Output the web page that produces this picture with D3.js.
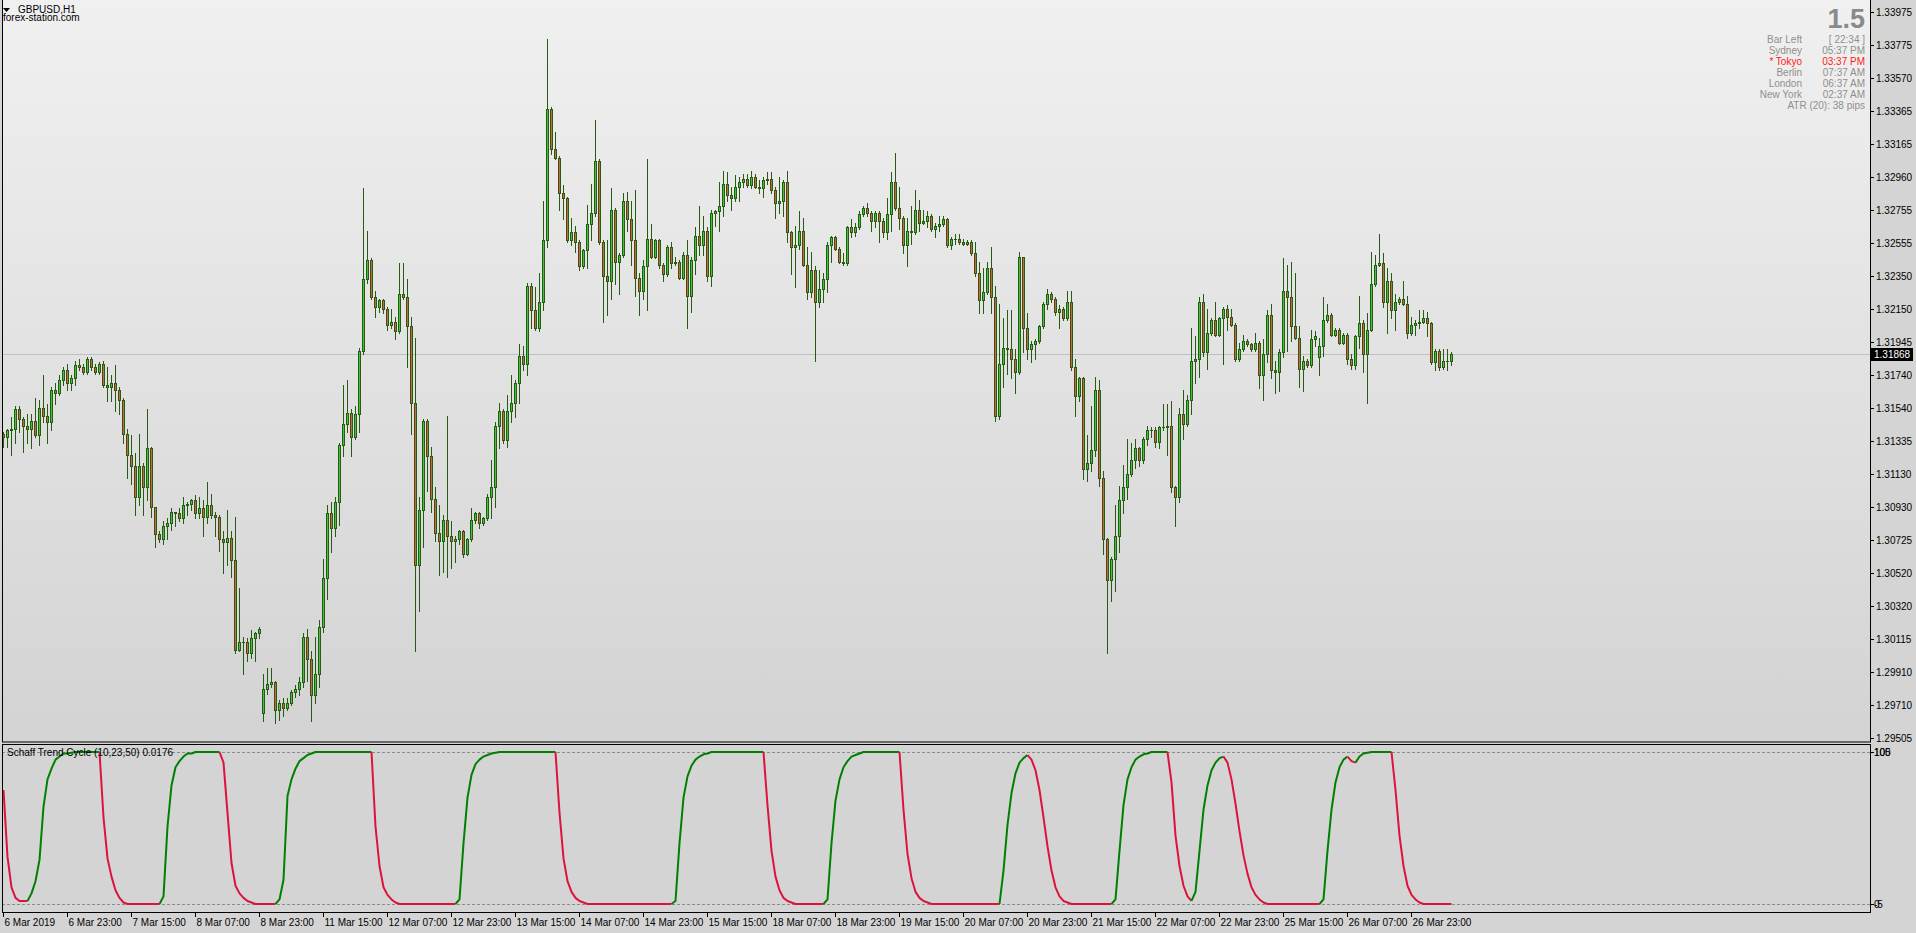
<!DOCTYPE html>
<html><head><meta charset="utf-8">
<script src="https://cdn.jsdelivr.net/npm/d3@7"></script>
<style>
html,body{margin:0;padding:0;background:#d4d4d4;overflow:hidden;}
svg{display:block;}
text{font-family:"Liberation Sans",Arial,sans-serif;}
</style></head><body>
<svg id="c" width="1916" height="933"></svg>
<script>
// ---- DATA (GBPUSD H1, 6 Mar 2019 07:00 onward) ----
const openP=[1.3138,1.3136,1.3140,1.3141,1.3153,1.3147,1.3143,1.3141,1.3146,1.3137,
1.3154,1.3149,1.3145,1.3165,1.3163,1.3171,1.3177,1.3169,1.3172,1.3180,
1.3179,1.3176,1.3184,1.3179,1.3176,1.3181,1.3168,1.3167,1.3169,1.3165,
1.3159,1.3138,1.3125,1.3118,1.3099,1.3118,1.3105,1.3129,1.3093,1.3076,
1.3073,1.3081,1.3083,1.3090,1.3089,1.3086,1.3094,1.3095,1.3097,1.3089,
1.3092,1.3087,1.3094,1.3088,1.3087,1.3073,1.3071,1.3074,1.3060,1.3005,
1.3010,1.3010,1.3003,1.3012,1.3015,1.2966,1.2981,1.2984,1.2985,1.2968,
1.2972,1.2969,1.2972,1.2979,1.2981,1.2985,1.3013,1.2999,1.2977,1.2990,
1.3019,1.3049,1.3089,1.3080,1.3096,1.3131,1.3144,1.3151,1.3136,1.3150,
1.3189,1.3233,1.3245,1.3222,1.3216,1.3220,1.3215,1.3205,1.3207,1.3201,
1.3224,1.3222,1.3204,1.3157,1.3057,1.3091,1.3146,1.3124,1.3098,1.3077,
1.3072,1.3085,1.3075,1.3072,1.3073,1.3078,1.3064,1.3073,1.3085,1.3089,
1.3083,1.3086,1.3099,1.3105,1.3143,1.3152,1.3134,1.3152,1.3157,1.3169,
1.3186,1.3181,1.3229,1.3214,1.3203,1.3219,1.3257,1.3338,1.3313,1.3308,
1.3286,1.3283,1.3257,1.3262,1.3256,1.3241,1.3251,1.3267,1.3274,1.3306,
1.3256,1.3235,1.3232,1.3276,1.3244,1.3248,1.3281,1.3270,1.3257,1.3234,
1.3226,1.3241,1.3258,1.3247,1.3257,1.3242,1.3236,1.3253,1.3243,1.3244,
1.3234,1.3248,1.3223,1.3245,1.3260,1.3254,1.3263,1.3235,1.3274,1.3275,
1.3278,1.3292,1.3285,1.3283,1.3290,1.3293,1.3295,1.3291,1.3296,1.3290,
1.3289,1.3294,1.3295,1.3288,1.3280,1.3281,1.3293,1.3262,1.3253,1.3254,
1.3263,1.3242,1.3225,1.3239,1.3219,1.3227,1.3233,1.3254,1.3259,1.3252,
1.3244,1.3243,1.3265,1.3262,1.3265,1.3273,1.3277,1.3274,1.3269,1.3274,
1.3269,1.3262,1.3273,1.3293,1.3277,1.3271,1.3254,1.3263,1.3262,1.3276,
1.3268,1.3269,1.3272,1.3264,1.3266,1.3267,1.3270,1.3254,1.3258,1.3258,
1.3256,1.3255,1.3256,1.3249,1.3237,1.3220,1.3225,1.3240,1.3222,1.3149,
1.3181,1.3191,1.3190,1.3184,1.3176,1.3247,1.3203,1.3190,1.3193,1.3195,
1.3204,1.3218,1.3224,1.3221,1.3213,1.3215,1.3209,1.3219,1.3179,1.3161,
1.3172,1.3116,1.3120,1.3128,1.3165,1.3111,1.3073,1.3048,1.3061,1.3075,
1.3097,1.3105,1.3113,1.3122,1.3129,1.3122,1.3135,1.3140,1.3140,1.3133,
1.3142,1.3142,1.3143,1.3105,1.3099,1.3150,1.3144,1.3159,1.3183,1.3184,
1.3219,1.3188,1.3200,1.3208,1.3199,1.3209,1.3215,1.3210,1.3205,1.3184,
1.3190,1.3195,1.3193,1.3190,1.3194,1.3174,1.3187,1.3211,1.3177,1.3176,
1.3188,1.3226,1.3222,1.3204,1.3197,1.3178,1.3183,1.3180,1.3196,1.3185,
1.3192,1.3208,1.3211,1.3199,1.3202,1.3194,1.3199,1.3184,1.3180,1.3198,
1.3206,1.3187,1.3202,1.3230,1.3242,1.3243,1.3219,1.3232,1.3214,1.3219,
1.3221,1.3218,1.3200,1.3205,1.3206,1.3207,1.3209,1.3206,1.3182,1.3189,
1.3179,1.3183,1.3183];
const highP=[1.3139,1.3141,1.3148,1.3155,1.3155,1.3148,1.3150,1.3150,1.3160,1.3159,
1.3174,1.3156,1.3167,1.3169,1.3174,1.3179,1.3181,1.3174,1.3183,1.3184,
1.3181,1.3185,1.3185,1.3181,1.3182,1.3183,1.3179,1.3174,1.3180,1.3167,
1.3160,1.3141,1.3137,1.3126,1.3138,1.3120,1.3153,1.3130,1.3093,1.3078,
1.3084,1.3086,1.3092,1.3090,1.3092,1.3099,1.3096,1.3098,1.3100,1.3099,
1.3097,1.3108,1.3101,1.3090,1.3088,1.3078,1.3091,1.3078,1.3087,1.3043,
1.3013,1.3012,1.3017,1.3016,1.3019,1.2990,1.2994,1.2994,1.2986,1.2974,
1.2975,1.2975,1.2980,1.2983,1.2988,1.3015,1.3018,1.3004,1.3013,1.3023,
1.3061,1.3094,1.3096,1.3099,1.3132,1.3168,1.3171,1.3153,1.3155,1.3191,
1.3289,1.3263,1.3246,1.3226,1.3221,1.3221,1.3216,1.3215,1.3210,1.3243,
1.3243,1.3233,1.3210,1.3197,1.3099,1.3147,1.3147,1.3130,1.3105,1.3094,
1.3088,1.3149,1.3084,1.3075,1.3079,1.3079,1.3074,1.3092,1.3090,1.3090,
1.3087,1.3101,1.3122,1.3145,1.3157,1.3153,1.3162,1.3174,1.3171,1.3193,
1.3192,1.3231,1.3231,1.3228,1.3237,1.3281,1.3381,1.3339,1.3324,1.3309,
1.3291,1.3284,1.3271,1.3266,1.3257,1.3252,1.3279,1.3292,1.3331,1.3307,
1.3257,1.3257,1.3289,1.3277,1.3249,1.3286,1.3287,1.3281,1.3288,1.3237,
1.3245,1.3307,1.3267,1.3258,1.3258,1.3243,1.3254,1.3256,1.3247,1.3245,
1.3250,1.3257,1.3247,1.3265,1.3278,1.3272,1.3265,1.3276,1.3276,1.3293,
1.3300,1.3299,1.3290,1.3297,1.3296,1.3298,1.3298,1.3300,1.3298,1.3294,
1.3296,1.3299,1.3299,1.3290,1.3296,1.3294,1.3300,1.3263,1.3266,1.3275,
1.3271,1.3253,1.3250,1.3241,1.3239,1.3237,1.3256,1.3260,1.3260,1.3253,
1.3249,1.3266,1.3270,1.3268,1.3275,1.3278,1.3280,1.3275,1.3275,1.3275,
1.3271,1.3283,1.3299,1.3311,1.3290,1.3272,1.3271,1.3278,1.3288,1.3282,
1.3276,1.3275,1.3273,1.3268,1.3272,1.3272,1.3271,1.3259,1.3261,1.3261,
1.3258,1.3257,1.3257,1.3256,1.3244,1.3240,1.3244,1.3253,1.3229,1.3218,
1.3209,1.3214,1.3214,1.3190,1.3250,1.3247,1.3212,1.3195,1.3196,1.3205,
1.3219,1.3227,1.3225,1.3222,1.3217,1.3216,1.3226,1.3226,1.3184,1.3173,
1.3173,1.3137,1.3155,1.3173,1.3171,1.3115,1.3074,1.3062,1.3094,1.3106,
1.3119,1.3135,1.3132,1.3135,1.3130,1.3136,1.3143,1.3142,1.3142,1.3143,
1.3156,1.3156,1.3158,1.3106,1.3154,1.3165,1.3162,1.3203,1.3198,1.3222,
1.3224,1.3215,1.3209,1.3219,1.3210,1.3216,1.3217,1.3215,1.3206,1.3194,
1.3199,1.3196,1.3194,1.3200,1.3195,1.3196,1.3214,1.3218,1.3183,1.3190,
1.3246,1.3242,1.3244,1.3237,1.3204,1.3186,1.3184,1.3202,1.3201,1.3197,
1.3222,1.3218,1.3212,1.3203,1.3203,1.3200,1.3200,1.3187,1.3199,1.3223,
1.3208,1.3212,1.3250,1.3248,1.3261,1.3249,1.3240,1.3237,1.3224,1.3222,
1.3232,1.3223,1.3210,1.3208,1.3214,1.3214,1.3213,1.3207,1.3190,1.3190,
1.3190,1.3190,1.3188];
const lowP=[1.3130,1.3130,1.3125,1.3132,1.3139,1.3127,1.3132,1.3129,1.3136,1.3131,
1.3145,1.3132,1.3140,1.3156,1.3162,1.3168,1.3165,1.3165,1.3168,1.3177,
1.3175,1.3175,1.3177,1.3175,1.3175,1.3167,1.3158,1.3158,1.3152,1.3150,
1.3132,1.3111,1.3107,1.3088,1.3094,1.3088,1.3097,1.3087,1.3068,1.3071,
1.3070,1.3073,1.3079,1.3081,1.3084,1.3083,1.3088,1.3091,1.3086,1.3086,
1.3075,1.3083,1.3086,1.3075,1.3066,1.3052,1.3057,1.3050,1.3003,1.3004,
1.2990,1.2998,1.3000,1.2998,1.3012,1.2961,1.2978,1.2982,1.2960,1.2962,
1.2964,1.2968,1.2971,1.2976,1.2977,1.2982,1.2986,1.2961,1.2972,1.2982,
1.3016,1.3036,1.3065,1.3075,1.3082,1.3124,1.3139,1.3124,1.3135,1.3139,
1.3187,1.3231,1.3221,1.3210,1.3213,1.3212,1.3202,1.3203,1.3196,1.3200,
1.3221,1.3179,1.3138,1.3004,1.3029,1.3068,1.3103,1.3090,1.3072,1.3051,
1.3053,1.3050,1.3055,1.3059,1.3070,1.3062,1.3063,1.3072,1.3083,1.3080,
1.3082,1.3085,1.3086,1.3093,1.3129,1.3132,1.3130,1.3145,1.3148,1.3157,
1.3177,1.3174,1.3203,1.3202,1.3201,1.3214,1.3253,1.3310,1.3307,1.3276,
1.3270,1.3256,1.3254,1.3250,1.3239,1.3240,1.3240,1.3257,1.3272,1.3255,
1.3207,1.3211,1.3221,1.3230,1.3224,1.3247,1.3263,1.3242,1.3223,1.3211,
1.3221,1.3214,1.3246,1.3246,1.3240,1.3232,1.3235,1.3240,1.3242,1.3233,
1.3233,1.3203,1.3213,1.3236,1.3248,1.3248,1.3232,1.3229,1.3266,1.3263,
1.3272,1.3281,1.3276,1.3281,1.3281,1.3290,1.3290,1.3289,1.3289,1.3286,
1.3284,1.3292,1.3286,1.3271,1.3274,1.3272,1.3256,1.3236,1.3228,1.3252,
1.3241,1.3221,1.3222,1.3183,1.3216,1.3219,1.3225,1.3244,1.3251,1.3243,
1.3242,1.3242,1.3259,1.3260,1.3264,1.3272,1.3272,1.3263,1.3265,1.3256,
1.3259,1.3258,1.3263,1.3276,1.3264,1.3249,1.3241,1.3255,1.3261,1.3263,
1.3267,1.3265,1.3263,1.3259,1.3263,1.3266,1.3253,1.3252,1.3255,1.3255,
1.3254,1.3254,1.3248,1.3235,1.3212,1.3212,1.3224,1.3212,1.3146,1.3147,
1.3167,1.3175,1.3172,1.3163,1.3175,1.3188,1.3184,1.3182,1.3184,1.3194,
1.3203,1.3215,1.3219,1.3211,1.3203,1.3208,1.3208,1.3177,1.3149,1.3158,
1.3110,1.3109,1.3115,1.3124,1.3106,1.3064,1.3003,1.3035,1.3041,1.3065,
1.3089,1.3098,1.3112,1.3117,1.3118,1.3120,1.3131,1.3136,1.3130,1.3129,
1.3140,1.3125,1.3102,1.3081,1.3096,1.3135,1.3143,1.3150,1.3169,1.3173,
1.3186,1.3178,1.3199,1.3198,1.3198,1.3181,1.3202,1.3204,1.3183,1.3183,
1.3189,1.3192,1.3189,1.3189,1.3166,1.3159,1.3182,1.3172,1.3163,1.3164,
1.3185,1.3189,1.3195,1.3196,1.3167,1.3164,1.3179,1.3179,1.3192,1.3174,
1.3186,1.3207,1.3198,1.3198,1.3193,1.3193,1.3181,1.3178,1.3178,1.3191,
1.3176,1.3157,1.3201,1.3229,1.3241,1.3216,1.3200,1.3209,1.3202,1.3218,
1.3217,1.3197,1.3199,1.3199,1.3203,1.3206,1.3198,1.3181,1.3177,1.3177,
1.3178,1.3177,1.3180];
const closeP=[1.3136,1.3140,1.3141,1.3153,1.3147,1.3143,1.3141,1.3146,1.3137,1.3154,
1.3149,1.3145,1.3165,1.3163,1.3171,1.3177,1.3169,1.3172,1.3180,1.3179,
1.3176,1.3184,1.3179,1.3176,1.3181,1.3168,1.3167,1.3169,1.3165,1.3159,
1.3138,1.3125,1.3118,1.3099,1.3118,1.3105,1.3129,1.3093,1.3076,1.3073,
1.3081,1.3083,1.3090,1.3089,1.3086,1.3094,1.3095,1.3097,1.3089,1.3092,
1.3087,1.3094,1.3088,1.3087,1.3073,1.3071,1.3074,1.3060,1.3005,1.3010,
1.3010,1.3003,1.3012,1.3015,1.3018,1.2981,1.2984,1.2985,1.2968,1.2972,
1.2969,1.2972,1.2979,1.2981,1.2985,1.3013,1.2999,1.2977,1.2990,1.3019,
1.3049,1.3089,1.3080,1.3096,1.3131,1.3144,1.3151,1.3136,1.3150,1.3189,
1.3233,1.3245,1.3222,1.3216,1.3220,1.3215,1.3205,1.3207,1.3201,1.3224,
1.3222,1.3204,1.3157,1.3057,1.3091,1.3146,1.3124,1.3098,1.3077,1.3072,
1.3085,1.3075,1.3072,1.3073,1.3078,1.3064,1.3073,1.3085,1.3089,1.3083,
1.3086,1.3099,1.3105,1.3143,1.3152,1.3134,1.3152,1.3157,1.3169,1.3186,
1.3181,1.3229,1.3214,1.3203,1.3219,1.3257,1.3338,1.3313,1.3308,1.3286,
1.3283,1.3257,1.3262,1.3256,1.3241,1.3251,1.3267,1.3274,1.3306,1.3256,
1.3235,1.3232,1.3276,1.3244,1.3248,1.3281,1.3270,1.3257,1.3234,1.3226,
1.3241,1.3258,1.3247,1.3257,1.3242,1.3236,1.3253,1.3243,1.3244,1.3234,
1.3248,1.3223,1.3245,1.3260,1.3254,1.3263,1.3235,1.3274,1.3275,1.3278,
1.3292,1.3285,1.3283,1.3290,1.3293,1.3295,1.3291,1.3296,1.3290,1.3289,
1.3294,1.3295,1.3288,1.3280,1.3281,1.3293,1.3262,1.3253,1.3254,1.3263,
1.3242,1.3225,1.3239,1.3219,1.3227,1.3233,1.3254,1.3259,1.3252,1.3244,
1.3243,1.3265,1.3262,1.3265,1.3273,1.3277,1.3274,1.3269,1.3274,1.3269,
1.3262,1.3273,1.3293,1.3277,1.3271,1.3254,1.3263,1.3262,1.3276,1.3268,
1.3269,1.3272,1.3264,1.3266,1.3267,1.3270,1.3254,1.3258,1.3258,1.3256,
1.3255,1.3256,1.3249,1.3237,1.3220,1.3225,1.3240,1.3222,1.3149,1.3181,
1.3191,1.3190,1.3184,1.3176,1.3247,1.3203,1.3190,1.3193,1.3195,1.3204,
1.3218,1.3224,1.3221,1.3213,1.3215,1.3209,1.3219,1.3179,1.3161,1.3172,
1.3116,1.3120,1.3128,1.3165,1.3111,1.3073,1.3048,1.3061,1.3075,1.3097,
1.3105,1.3113,1.3122,1.3129,1.3122,1.3135,1.3140,1.3140,1.3133,1.3142,
1.3142,1.3143,1.3105,1.3099,1.3150,1.3144,1.3159,1.3183,1.3184,1.3219,
1.3188,1.3200,1.3208,1.3199,1.3209,1.3215,1.3210,1.3205,1.3184,1.3190,
1.3195,1.3193,1.3190,1.3194,1.3174,1.3187,1.3211,1.3177,1.3176,1.3188,
1.3226,1.3222,1.3204,1.3197,1.3178,1.3183,1.3180,1.3196,1.3198,1.3192,
1.3208,1.3211,1.3199,1.3202,1.3194,1.3199,1.3184,1.3180,1.3198,1.3206,
1.3187,1.3202,1.3230,1.3242,1.3243,1.3219,1.3232,1.3214,1.3219,1.3221,
1.3218,1.3200,1.3205,1.3206,1.3207,1.3209,1.3206,1.3182,1.3189,1.3179,
1.3183,1.3183,1.31868];
// Schaff Trend Cycle (10,23,50) values per bar
const stc=[75,31,11,4,2,2,2,7,15,29,
64,82,89,95,97,99,99,99.5,100,100,
100,100,100,100,100,57,30,18,9,4,
1,0,0,0,0,0,0,0,0,0,
5,51,78,90,94,97,99,99,100,100,
100,100,100,100,100,93,60,27,12,7,
4,2,1,0,0,0,0,0,0,3,
16,71,82,89,94,96,98,99,100,100,
100,100,100,100,100,100,100,100,100,100,
100,100,100,51,25,11,6,3,1,0,
0,0,0,0,0,0,0,0,0,0,
0,0,0,0,3,40,70,85,92,95,
97,98,99,99.5,100,100,100,100,100,100,
100,100,100,100,100,100,100,100,100,60,
30,15,8,4,2,1,0,0,0,0,
0,0,0,0,0,0,0,0,0,0,
0,0,0,0,0,0,0,0,2,40,
70,84,91,95,97,98.5,99,100,100,100,
100,100,100,100,100,100,100,100,100,100,
100,65,35,18,9,4,2,1,0,0,
0,0,0,0,0,0,3,40,68,82,
90,94,97,98,99,100,100,100,100,100,
100,100,100,100,100,62,33,17,8,4,
2,1,0,0,0,0,0,0,0,0,
0,0,0,0,0,0,0,0,0,0,
22,52,73,86,93,96,98,95,88,75,
57,38,22,11,5,2,1,0,0,0,
0,0,0,0,0,0,0,0,3,35,
65,82,90,95,97,98.5,99,100,100,100,
100,100,80,45,25,12,5,2,8,35,
62,78,88,93,96,97,93,82,66,48,
32,20,11,6,3,1,0,0,0,0,
0,0,0,0,0,0,0,0,0,0,
3,35,62,80,90,95,97,94,93,97,
99,99.5,100,100,100,100,100,100,75,45,
25,12,6,3,1,0,0,0,0,0,
0,0,0.0176];
const priceTicks=[1.33975,1.33775,1.33570,1.33365,1.33165,1.32960,1.32755,1.32555,1.32350,1.32150,1.31945,1.31740,1.31540,1.31335,1.31130,1.30930,1.30725,1.30520,1.30320,1.30115,1.29910,1.29710,1.29505];
const timeLabels=["6 Mar 2019","6 Mar 23:00","7 Mar 15:00","8 Mar 07:00","8 Mar 23:00","11 Mar 15:00","12 Mar 07:00","12 Mar 23:00","13 Mar 15:00","14 Mar 07:00","14 Mar 23:00","15 Mar 15:00","18 Mar 07:00","18 Mar 23:00","19 Mar 15:00","20 Mar 07:00","20 Mar 23:00","21 Mar 15:00","22 Mar 07:00","22 Mar 23:00","25 Mar 15:00","26 Mar 07:00","26 Mar 23:00"];
const labelEvery=16;
const currentPrice=1.31868;
const stcLevels=[0,100];
const stcScaleTop=["105","100"];
const stcScaleBottom=["-5","0"];
const sessionNames=["Bar Left","Sydney","* Tokyo","Berlin","London","New York"];
const sessionValues=["[ 22:34 ]","05:37 PM","03:37 PM","07:37 AM","06:37 AM","02:37 AM"];
const highlightRow=2;
const atrText="ATR (20): 38 pips";
const spreadText="1.5";

// ---- LAYOUT ----
const svg=d3.select('#c');
const L=2, R=1870, mainT=0, mainB=742, indT=744, indB=912;
const N=closeP.length;
const x=d3.scaleBand().domain(d3.range(N)).range([2,2+4*N-1]).paddingInner(0.25).paddingOuter(0);
const y=d3.scaleLinear().domain([1.294817,1.34050]).range([mainB,mainT]);
const ys=d3.scaleLinear().domain([0,100]).range([904,752]);

const defs=svg.append('defs');
const g1=defs.append('linearGradient').attr('id','bg').attr('x1',0).attr('y1',0).attr('x2',0).attr('y2',1);
g1.append('stop').attr('offset','0%').attr('stop-color','#f0f0f0');
g1.append('stop').attr('offset','100%').attr('stop-color','#d3d3d3');
defs.append('clipPath').attr('id','mc').append('rect').attr('x',L+1).attr('y',mainT).attr('width',R-L-1).attr('height',mainB-mainT);
defs.append('clipPath').attr('id','ic').append('rect').attr('x',L+1).attr('y',indT+1).attr('width',R-L-1).attr('height',indB-indT-1);

svg.append('rect').attr('x',0).attr('y',0).attr('width',1916).attr('height',933).attr('fill','#d4d4d4');
svg.append('rect').attr('x',L).attr('y',mainT).attr('width',R-L).attr('height',mainB-mainT).attr('fill','url(#bg)');
svg.append('rect').attr('x',L).attr('y',indT).attr('width',R-L).attr('height',indB-indT).attr('fill','#d4d4d4');

// current price line
svg.append('line').attr('x1',L).attr('x2',R).attr('y1',Math.round(y(currentPrice))+0.5).attr('y2',Math.round(y(currentPrice))+0.5)
  .attr('stroke','#c0c0c0').attr('stroke-width',1);

// candles
const WICK='#275a12', BULL='#3ec53e', BEAR='#d8603e';
const cg=svg.append('g').attr('clip-path','url(#mc)');
d3.range(N).forEach(i=>{
  const bx=x(i);
  const yh=Math.round(y(highP[i])), yl=Math.round(y(lowP[i]));
  cg.append('rect').attr('x',bx+1).attr('y',yh).attr('width',1).attr('height',Math.max(1,yl-yh+1)).attr('fill',WICK);
  const yo=Math.round(y(openP[i])), yc=Math.round(y(closeP[i]));
  const t=Math.min(yo,yc), b=Math.max(yo,yc);
  cg.append('rect').attr('x',bx).attr('y',t).attr('width',x.bandwidth()).attr('height',b-t+1).attr('fill',WICK);
  if(b-t>1){
    cg.append('rect').attr('x',bx+1).attr('y',t+1).attr('width',1).attr('height',b-t-1)
      .attr('fill',closeP[i]>=openP[i]?BULL:BEAR);
  }
});

// borders
svg.append('rect').attr('x',L+0.5).attr('y',mainT-0.5).attr('width',R-L).attr('height',mainB-mainT+0.5).attr('fill','none').attr('stroke','#000');
svg.append('rect').attr('x',L+0.5).attr('y',indT+0.5).attr('width',R-L).attr('height',indB-indT).attr('fill','none').attr('stroke','#000');

// price axis
const pa=svg.append('g');
priceTicks.forEach(v=>{
  const yy=Math.round(y(v))+0.5;
  pa.append('line').attr('x1',R).attr('x2',R+4).attr('y1',yy).attr('y2',yy).attr('stroke','#000');
  pa.append('text').attr('x',R+6).attr('y',yy+3.5).attr('font-size',10).attr('fill','#000').text(v.toFixed(5));
});
// current price box
const cpy=Math.round(y(currentPrice));
svg.append('rect').attr('x',R+1).attr('y',cpy-6).attr('width',42).attr('height',13).attr('fill','#000');
svg.append('text').attr('x',R+4).attr('y',cpy+4).attr('font-size',10).attr('fill','#fff').text(currentPrice.toFixed(5));

// indicator levels
const ig=svg.append('g').attr('clip-path','url(#ic)');
stcLevels.forEach(v=>{
  ig.append('line').attr('x1',L).attr('x2',R).attr('y1',Math.round(ys(v))+0.5).attr('y2',Math.round(ys(v))+0.5)
    .attr('stroke','#8c8c8c').attr('stroke-dasharray','3,2');
});
// STC line coloured by direction
const dirs=[];let prev='green';
for(let i=0;i<N-1;i++){
  const d=stc[i+1]-stc[i];
  let c=prev; if(d>0.5)c='green'; else if(d<-0.5)c='red';
  if(i===0 && d<0) c='red';
  dirs.push(c);prev=c;
}
const line=d3.line().x(i=>x(i)+1.5).y(i=>ys(stc[i]));
let start=0;
for(let i=1;i<=dirs.length;i++){
  if(i===dirs.length||dirs[i]!==dirs[start]){
    const idx=d3.range(start,i+1);
    ig.append('path').attr('d',line(idx)).attr('fill','none')
      .attr('stroke',dirs[start]==='green'?'#008000':'#dc143c').attr('stroke-width',2).attr('stroke-linejoin','round');
    start=i;
  }
}
svg.append('text').attr('x',7).attr('y',756).attr('font-size',10).attr('fill','#000').text('Schaff Trend Cycle (10,23,50) '+stc[N-1].toFixed(4));
// indicator axis labels (scale max/min overlap the level labels as in the original)
svg.append('line').attr('x1',R).attr('x2',R+4).attr('y1',752.5).attr('y2',752.5).attr('stroke','#000');
svg.append('line').attr('x1',R).attr('x2',R+4).attr('y1',904.5).attr('y2',904.5).attr('stroke','#000');
stcScaleTop.forEach(t=>svg.append('text').attr('x',R+4).attr('y',756).attr('font-size',10).attr('fill','#000').text(t));
stcScaleBottom.forEach(t=>svg.append('text').attr('x',R+4).attr('y',908).attr('font-size',10).attr('fill','#000').text(t));

// time axis
const ta=svg.append('g');
timeLabels.forEach((t,k)=>{
  const xx=Math.round(x(k*labelEvery)+1)+0.5;
  ta.append('line').attr('x1',xx).attr('x2',xx).attr('y1',indB).attr('y2',indB+5).attr('stroke','#000');
  ta.append('text').attr('x',xx+1).attr('y',926).attr('font-size',10).attr('fill','#000').text(t);
});

// title
svg.append('path').attr('d','M3,8 L10,8 L6.5,12 Z').attr('fill','#000');
svg.append('text').attr('x',18).attr('y',13).attr('font-size',10).attr('fill','#000').text('GBPUSD,H1');
svg.append('text').attr('x',3).attr('y',21).attr('font-size',10).attr('fill','#000').text('forex-station.com');

// info panel
svg.append('text').attr('x',1865).attr('y',28).attr('text-anchor','end').attr('font-size',27).attr('font-weight','bold').attr('fill','#8a8a8a').text(spreadText);
sessionNames.forEach((n,k)=>{
  const col=k===highlightRow?'#ff1a1a':'#8f8f8f';
  const yy=42.5+11*k;
  svg.append('text').attr('x',1802).attr('y',yy).attr('text-anchor','end').attr('font-size',10).attr('fill',col).text(n);
  svg.append('text').attr('x',1865).attr('y',yy).attr('text-anchor','end').attr('font-size',10).attr('fill',col).text(sessionValues[k]);
});
svg.append('text').attr('x',1865).attr('y',42.5+66).attr('text-anchor','end').attr('font-size',10).attr('fill','#8f8f8f').text(atrText);
</script>
</body></html>
